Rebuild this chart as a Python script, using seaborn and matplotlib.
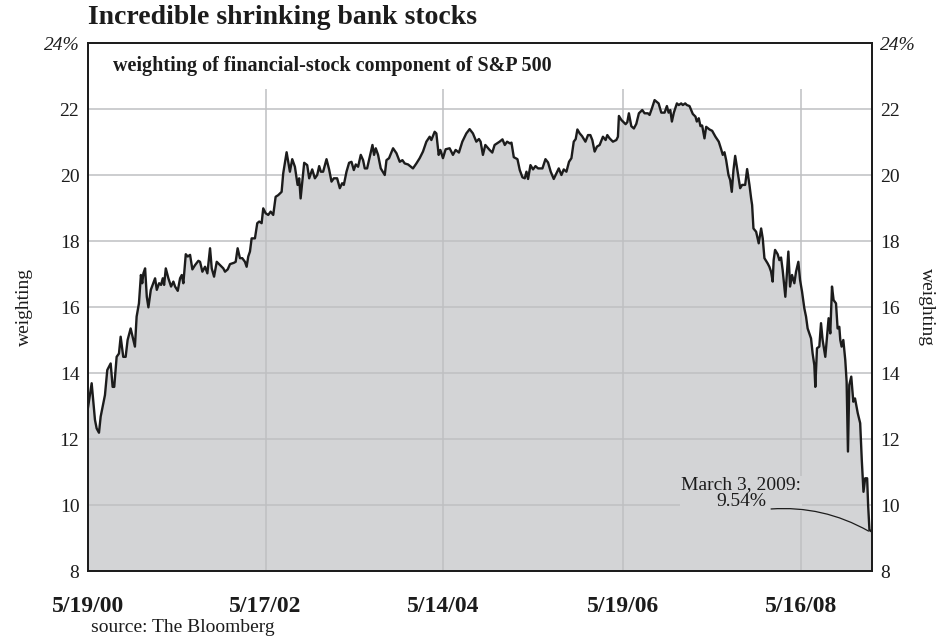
import pandas as pd
import numpy as np
import matplotlib
matplotlib.use("Agg")
import matplotlib.pyplot as plt
import matplotlib.dates as mdates
import seaborn as sns

# ----------------------------------------------------------
# DATA (decimal years, weight in %)
# ----------------------------------------------------------
years = [
    2000.380, 2000.425, 2000.462, 2000.481, 2000.507, 2000.526, 2000.574, 2000.600, 2000.638, 2000.660,
    2000.678, 2000.705, 2000.731, 2000.750, 2000.779, 2000.806, 2000.828, 2000.862, 2000.910, 2000.929,
    2000.955, 2000.977, 2000.992, 2001.003, 2001.022, 2001.041, 2001.059, 2001.086, 2001.134, 2001.153,
    2001.179, 2001.201, 2001.220, 2001.235, 2001.254, 2001.283, 2001.313, 2001.339, 2001.358, 2001.388,
    2001.414, 2001.433, 2001.451, 2001.478, 2001.500, 2001.526, 2001.552, 2001.582, 2001.619, 2001.638,
    2001.664, 2001.694, 2001.720, 2001.750, 2001.769, 2001.795, 2001.825, 2001.862, 2001.899, 2001.918,
    2001.948, 2001.974, 2002.019, 2002.038, 2002.060, 2002.086, 2002.112, 2002.142, 2002.161, 2002.179,
    2002.198, 2002.217, 2002.254,
    2002.280, 2002.302, 2002.329, 2002.347, 2002.374, 2002.403, 2002.430, 2002.459, 2002.486, 2002.515,
    2002.553, 2002.571, 2002.609, 2002.646, 2002.672, 2002.702, 2002.732, 2002.750, 2002.766, 2002.788,
    2002.806, 2002.840, 2002.862, 2002.896, 2002.926, 2002.952, 2002.974, 2002.993, 2003.019, 2003.057,
    2003.086, 2003.113, 2003.139, 2003.176, 2003.206, 2003.232, 2003.251, 2003.281, 2003.310, 2003.337,
    2003.363, 2003.385, 2003.411, 2003.441, 2003.467, 2003.486, 2003.512, 2003.542, 2003.572, 2003.590,
    2003.609, 2003.635, 2003.665, 2003.710, 2003.729, 2003.758, 2003.803, 2003.841, 2003.878, 2003.908,
    2003.934, 2003.971, 2004.027, 2004.065, 2004.102,
    2004.139, 2004.177, 2004.214, 2004.233, 2004.270, 2004.289, 2004.315, 2004.334, 2004.363, 2004.393,
    2004.438, 2004.475, 2004.505, 2004.542, 2004.580, 2004.625, 2004.662, 2004.699, 2004.737, 2004.766,
    2004.785, 2004.811, 2004.838, 2004.886, 2004.916, 2004.942, 2004.998, 2005.028, 2005.054, 2005.080,
    2005.110, 2005.129, 2005.155, 2005.196, 2005.222, 2005.252, 2005.278, 2005.297, 2005.315, 2005.342,
    2005.371, 2005.398, 2005.427, 2005.476, 2005.510, 2005.539, 2005.569, 2005.603, 2005.633, 2005.659,
    2005.689, 2005.715, 2005.745, 2005.774, 2005.801, 2005.827, 2005.849, 2005.868, 2005.894, 2005.920,
    2005.958, 2005.987, 2006.014,
    2006.036, 2006.062, 2006.088, 2006.118, 2006.155, 2006.185, 2006.204, 2006.230, 2006.267, 2006.305,
    2006.323, 2006.334, 2006.361, 2006.409, 2006.428, 2006.446, 2006.473, 2006.502, 2006.529, 2006.558,
    2006.596, 2006.622, 2006.659, 2006.678, 2006.704, 2006.734, 2006.779, 2006.809, 2006.846, 2006.872,
    2006.891, 2006.910, 2006.928, 2006.950, 2006.984, 2007.006, 2007.033, 2007.051, 2007.078, 2007.096,
    2007.126, 2007.163, 2007.193, 2007.208, 2007.230, 2007.249, 2007.268, 2007.294, 2007.313, 2007.350,
    2007.380, 2007.417, 2007.454, 2007.481, 2007.499, 2007.518, 2007.537, 2007.563, 2007.582, 2007.600,
    2007.619, 2007.638, 2007.660, 2007.694, 2007.716, 2007.750, 2007.772, 2007.798, 2007.817, 2007.828,
    2007.843, 2007.873, 2007.902, 2007.929, 2007.947, 2007.966,
    2008.003, 2008.022, 2008.041, 2008.059, 2008.070, 2008.086, 2008.115, 2008.134, 2008.153, 2008.171,
    2008.201, 2008.216, 2008.235, 2008.254, 2008.276, 2008.302, 2008.321, 2008.347, 2008.366, 2008.388,
    2008.414, 2008.433, 2008.451, 2008.489, 2008.507, 2008.526, 2008.537, 2008.556, 2008.582, 2008.601,
    2008.619, 2008.649, 2008.668, 2008.686, 2008.705, 2008.724, 2008.742, 2008.769, 2008.787, 2008.806,
    2008.817, 2008.832, 2008.851, 2008.873, 2008.888, 2008.903, 2008.918, 2008.940, 2008.963, 2008.982,
    2009.011, 2009.038, 2009.056, 2009.075, 2009.094, 2009.116, 2009.127, 2009.142, 2009.167,
]

weights = [
    12.88, 13.69, 12.58, 12.32, 12.19, 12.68, 13.33, 14.09, 14.29, 13.58,
    13.58, 14.49, 14.59, 15.10, 14.49, 14.49, 15.00, 15.35, 14.80, 15.71,
    16.11, 16.97, 16.72, 17.02, 17.17, 16.31, 15.99, 16.52, 16.87, 16.52,
    16.72, 16.67, 16.87, 16.67, 17.17, 16.87, 16.62, 16.77, 16.62, 16.49,
    16.87, 16.97, 16.72, 17.60, 17.53, 17.58, 17.14, 17.27, 17.40, 17.37,
    17.07, 17.22, 17.02, 17.78, 17.17, 16.92, 17.37, 17.27, 17.17, 17.07,
    17.14, 17.30, 17.34, 17.37, 17.78, 17.48, 17.48, 17.37, 17.22, 17.53,
    17.68, 18.08, 18.08,
    18.54, 18.59, 18.54, 18.99, 18.84, 18.79, 18.89, 18.79, 19.34, 19.39,
    19.49, 20.05, 20.69, 20.10, 20.48, 20.25, 19.70, 19.90, 19.29, 19.90,
    20.37, 20.30, 19.90, 20.17, 19.90, 20.00, 20.27, 20.10, 20.10, 20.48,
    20.17, 19.80, 19.90, 19.90, 19.60, 19.75, 19.70, 20.10, 20.37, 20.40,
    20.15, 20.32, 20.25, 20.61, 20.45, 20.20, 20.20, 20.55, 20.91, 20.61,
    20.81, 20.61, 20.20, 20.00, 20.45, 20.51, 20.81, 20.66, 20.40, 20.45,
    20.35, 20.32, 20.20, 20.35, 20.51,
    20.71, 21.01, 21.16, 21.06, 21.31, 21.26, 20.61, 20.76, 20.51, 20.78,
    20.81, 20.61, 20.76, 20.68, 21.01, 21.26, 21.39, 21.26, 21.01, 21.09,
    21.01, 20.61, 20.91, 20.76, 20.68, 20.91, 21.01, 21.08, 20.91, 21.01,
    20.96, 20.98, 20.54, 20.48, 20.15, 19.93, 19.90, 20.10, 19.88, 20.30,
    20.17, 20.27, 20.20, 20.20, 20.48, 20.38, 20.10, 19.88, 20.05, 20.20,
    20.00, 20.17, 20.10, 20.40, 20.51, 21.01, 21.09, 21.38, 21.26, 21.18,
    21.01, 21.21, 21.21,
    21.06, 20.71, 20.86, 20.91, 21.16, 21.06, 21.21, 21.11, 21.01, 21.06,
    21.16, 21.79, 21.67, 21.54, 21.60, 21.87, 21.48, 21.41, 21.55, 21.87,
    21.97, 21.87, 21.87, 21.82, 22.02, 22.27, 22.17, 21.89, 21.89, 22.09,
    21.89, 21.97, 21.62, 21.89, 22.17, 22.12, 22.17, 22.12, 22.17, 22.12,
    22.09, 21.85, 21.77, 21.62, 21.72, 21.48, 21.50, 21.11, 21.46, 21.38,
    21.34, 21.16, 21.01, 20.78, 20.61, 20.69, 20.45, 20.00, 19.85, 19.49,
    20.15, 20.58, 20.20, 19.60, 19.70, 19.70, 20.18, 19.70, 19.29, 19.09,
    18.38, 18.28, 17.93, 18.38, 18.08, 17.48,
    17.32, 17.22, 17.07, 16.77, 17.42, 17.73, 17.60, 17.42, 17.50, 17.12,
    16.31, 16.92, 17.68, 16.62, 16.97, 16.72, 17.07, 17.37, 16.82, 16.47,
    15.96, 15.71, 15.35, 15.05, 14.59, 14.24, 13.58, 14.75, 14.80, 15.51,
    15.00, 14.49, 15.10, 15.66, 15.20, 16.62, 16.21, 16.11, 15.35, 15.40,
    15.00, 14.80, 15.00, 14.39, 13.74, 11.62, 13.64, 13.89, 13.13, 13.23,
    12.78, 12.48, 11.36, 10.40, 10.81, 10.81, 10.00, 9.24, 9.20,
]

tick_dates = ["2000-05-19", "2002-05-17", "2004-05-14", "2006-05-19", "2008-05-16"]
tick_labels = ["5/19/00", "5/17/02", "5/14/04", "5/19/06", "5/16/08"]
y_ticks = [8, 10, 12, 14, 16, 18, 20, 22, 24]
y_labels = ["8", "10", "12", "14", "16", "18", "20", "22", "24%"]

# ----------------------------------------------------------
# PREP
# ----------------------------------------------------------
yrs = np.array(years)
base = np.floor(yrs)
frac = yrs - base
dates = [pd.Timestamp(int(b), 1, 1) + pd.Timedelta(days=f * 365.25) for b, f in zip(base, frac)]
df = pd.DataFrame({"date": dates, "weight": weights})

fill_col = "#d3d4d6"
grid_col = "#bfc0c2"
ink = "#1c1c1c"

sns.set_theme(style="white")
plt.rcParams["font.family"] = ["Liberation Serif", "DejaVu Serif"]

fig = plt.figure(figsize=(9.44, 6.39), dpi=100)
ax = fig.add_axes([0.0929, 0.1064, 0.8305, 0.8263])

ax.fill_between(df["date"], 8, df["weight"], color=fill_col, lw=0, zorder=1)
sns.lineplot(data=df, x="date", y="weight", ax=ax, color=ink, lw=1.7, zorder=4)

xmin = pd.Timestamp("2000-05-19")
xmax = pd.Timestamp("2009-03-03")
ax.set_xlim(xmin, xmax)
ax.set_ylim(8, 24)

# gridlines
tick_ts = [pd.Timestamp(t) for t in tick_dates]
ax.vlines(tick_ts[1:], 8, 22.6, color=grid_col, lw=1.1, zorder=2)
for v in y_ticks[1:-1]:
    ax.axhline(v, color=grid_col, lw=1.1, zorder=2)

ax.set_xticks(tick_ts)
ax.set_xticklabels(tick_labels, fontsize=17, fontweight="bold", color=ink)
ax.set_yticks(y_ticks)
ax.set_yticklabels(y_labels, fontsize=14, color=ink)
ax.yaxis.get_ticklabels()[-1].set_fontstyle("italic")
ax.tick_params(axis="x", length=0, pad=18)
ax.tick_params(axis="y", length=0, pad=6)
ax.set_xlabel("")
ax.set_ylabel("weighting", fontsize=14, color=ink, labelpad=8)

ax2 = ax.twinx()
ax2.set_ylim(8, 24)
ax2.set_yticks(y_ticks)
ax2.set_yticklabels(y_labels, fontsize=14, color=ink)
ax2.yaxis.get_ticklabels()[-1].set_fontstyle("italic")
ax2.tick_params(axis="y", length=0, pad=6)
ax2.set_ylabel("weighting", fontsize=14, color=ink, rotation=270, labelpad=14)

for a in (ax, ax2):
    for s in a.spines.values():
        s.set_color(ink)
        s.set_linewidth(1.3)
        s.set_visible(True)

# text
fig.text(0.0929, 0.972, "Incredible shrinking bank stocks", fontsize=20,
         fontweight="bold", color=ink, ha="left", va="center")
ax.text(0.032, 0.956, "weighting of financial-stock component of S&P 500",
        transform=ax.transAxes, fontsize=14.5, fontweight="bold", color=ink,
        ha="left", va="center")
fig.text(0.096, 0.018, "source: The Bloomberg", fontsize=14, color=ink,
         ha="left", va="center")

ax.text(pd.Timestamp("2007-09-15"), 10.36, "March 3, 2009:\n9.54%", fontsize=14,
        color=ink, ha="center", va="center", linespacing=0.95, zorder=5,
        bbox=dict(facecolor=fill_col, edgecolor="none", pad=0.5))
ax.annotate("", xy=(pd.Timestamp("2009-02-18"), 9.21),
            xytext=(pd.Timestamp("2008-01-16"), 9.88),
            arrowprops=dict(arrowstyle="-", color=ink, lw=0.9,
                            connectionstyle="arc3,rad=-0.15",
                            shrinkA=0, shrinkB=0), zorder=5)

fig.savefig("out.png", dpi=100)
